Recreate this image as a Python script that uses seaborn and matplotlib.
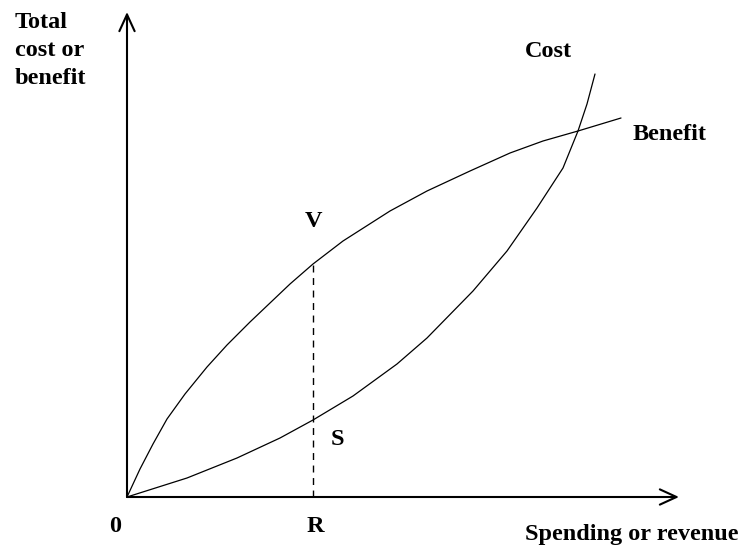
import pandas as pd
import seaborn as sns
import matplotlib.pyplot as plt

# spending / revenue (horizontal) and heights of the two curves
cost_x = [0, 60, 110, 153, 186, 226, 270, 300, 346, 380, 410, 436, 451, 460, 468]
cost_y = [0, 19, 39, 59, 77, 101, 133, 159, 206, 246, 289, 329, 366, 393, 423]

benefit_x = [0, 13, 26, 40, 58, 80, 100, 123, 143, 163, 186, 216, 263, 300, 343, 383, 416, 451, 494]
benefit_y = [0, 28, 53, 78, 103, 130, 152, 175, 194, 213, 233, 256, 286, 306, 326, 344, 356, 366, 379]

r_x = 186

sns.set_style('white')
plt.rcParams['font.family'] = ['Liberation Serif', 'DejaVu Serif']
plt.rcParams['font.weight'] = 'bold'
plt.rcParams['text.color'] = 'black'

df = pd.concat([
    pd.DataFrame({'x': cost_x, 'y': cost_y, 'curve': 'Cost'}),
    pd.DataFrame({'x': benefit_x, 'y': benefit_y, 'curve': 'Benefit'}),
])

fig = plt.figure(figsize=(7.45, 5.49), dpi=100)
ax = fig.add_axes([0, 0, 1, 1])
sns.lineplot(data=df, x='x', y='y', units='curve', estimator=None, sort=False,
             color='black', lw=0.9, ax=ax)

# dashed line from V down to R
v_y = benefit_y[benefit_x.index(r_x)]
ax.plot([r_x, r_x], [0, v_y], color='black', lw=1.0, ls=(0, (5, 4)))

# axes with open arrow heads
arrow = dict(arrowstyle='->,head_length=1.2,head_width=0.55', color='black',
             lw=1.5, mutation_scale=10, shrinkA=0, shrinkB=0)
ax.annotate('', xy=(0, 485), xytext=(0, 0), arrowprops=arrow)
ax.annotate('', xy=(552, 0), xytext=(0, 0), arrowprops=arrow)

fs = 17.5
ax.text(-112, 485, 'Total\ncost or\nbenefit', ha='left', va='top', fontsize=fs,
        fontweight='bold', linespacing=1.45)
ax.text(421, 440, 'Cost', ha='center', va='baseline', fontsize=fs, fontweight='bold')
ax.text(506, 357, 'Benefit', ha='left', va='baseline', fontsize=fs, fontweight='bold')
ax.text(r_x, 270, 'V', ha='center', va='baseline', fontsize=fs, fontweight='bold')
ax.text(r_x + 24, 52, 'S', ha='center', va='baseline', fontsize=fs, fontweight='bold')
ax.text(-12, -35, '0', ha='center', va='baseline', fontsize=fs, fontweight='bold')
ax.text(r_x + 2, -35, 'R', ha='center', va='baseline', fontsize=fs, fontweight='bold')
ax.text(398, -43, 'Spending or revenue', ha='left', va='baseline', fontsize=fs,
        fontweight='bold')

ax.set_xlim(-127, 618)
ax.set_ylim(-52, 497)
ax.axis('off')

fig.savefig('out.png', dpi=100)
